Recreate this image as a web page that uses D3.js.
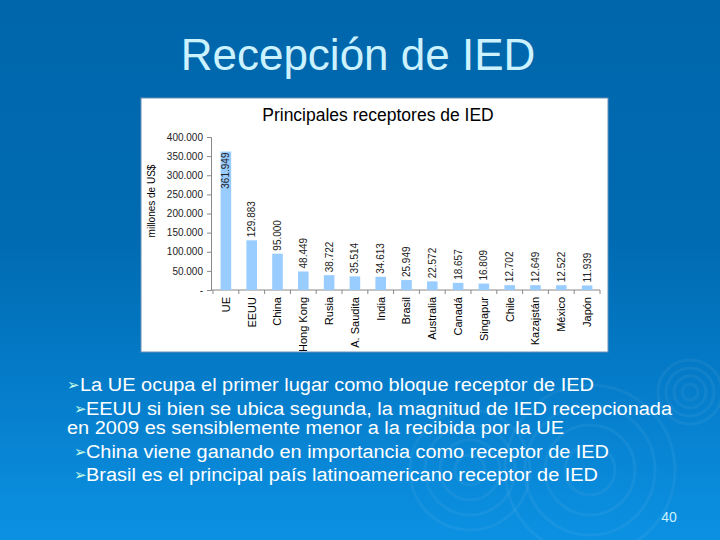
<!DOCTYPE html>
<html><head><meta charset="utf-8">
<script src="https://cdn.jsdelivr.net/npm/d3@7"></script>
<style>html,body{margin:0;padding:0;overflow:hidden;background:#0067ad}</style>
</head><body>
<script>
const categories = ["UE","EEUU","China","Hong Kong","Rusia","A. Saudita","India","Brasil","Australia","Canadá","Singapur","Chile","Kazajstán","México","Japón"];
const values = [361949,129883,95000,48449,38722,35514,34613,25949,22572,18657,16809,12702,12649,12522,11939];
const yTicks = [0,50000,100000,150000,200000,250000,300000,350000,400000];
const slideTitle = "Recepción de IED";
const chartTitle = "Principales receptores de IED";
const yLabel = "millones de US$";
const bulletTexts = [
  "La UE ocupa el primer lugar como bloque receptor de IED",
  "EEUU si bien se ubica segunda, la magnitud de IED recepcionada",
  "en 2009 es sensiblemente menor a la recibida por la UE",
  "China viene ganando en importancia como receptor de IED",
  "Brasil es el principal país latinoamericano receptor de IED"
];
const bulletFlags = [true,true,false,true,true];
const pageNum = "40";

const W=720,H=540;
const font="Liberation Sans, Arial, sans-serif";
const svg=d3.select("body").append("svg").attr("width",W).attr("height",H);
const defs=svg.append("defs");
const g=defs.append("linearGradient").attr("id","bg").attr("x1",0).attr("y1",0).attr("x2",0).attr("y2",1);
[[0,"#0066ab"],[0.45,"#006bb2"],[0.75,"#067fcd"],[1,"#0c91e2"]].forEach(s=>g.append("stop").attr("offset",s[0]).attr("stop-color",s[1]));
svg.append("rect").attr("width",W).attr("height",H).attr("fill","url(#bg)");

// decorative ripples
const ripples=[{cx:690,cy:392,r:[8,16,24,32]},{cx:590,cy:470,r:[25,45,65,85]},{cx:470,cy:470,r:[15,30,45,60]}];
ripples.forEach(rp=>rp.r.forEach(r=>svg.append("circle").attr("cx",rp.cx).attr("cy",rp.cy).attr("r",r)
  .attr("fill","none").attr("stroke","rgba(255,255,255,0.05)").attr("stroke-width",3)));

svg.append("text").attr("x",358).attr("y",70).attr("text-anchor","middle")
  .attr("font-family",font).attr("font-size",44).attr("fill","#ccf2ff").text(slideTitle);

// chart box
svg.append("rect").attr("x",141).attr("y",98).attr("width",467).attr("height",254).attr("fill","#fff").attr("stroke","#6a8fb5").attr("stroke-width",1);
svg.append("text").attr("x",378).attr("y",121).attr("text-anchor","middle")
  .attr("font-family",font).attr("font-size",17.5).attr("fill","#000").text(chartTitle);

const x=d3.scaleBand().domain(categories).range([213,600]).paddingInner(0.59).paddingOuter(0.295);
const y=d3.scaleLinear().domain([0,400000]).range([290,137]);
const loc=d3.formatLocale({decimal:",",thousands:".",grouping:[3],currency:["",""]});
const fmt=loc.format(",d");

// y axis
const ya=svg.append("g").attr("transform","translate(211,0)")
  .call(d3.axisLeft(y).tickValues(yTicks).tickSize(4).tickPadding(4).tickFormat(d=>d===0?"-":fmt(d)));
ya.select(".domain").attr("stroke","#888");
ya.selectAll(".tick line").attr("stroke","#888");
ya.selectAll(".tick text").attr("font-family",font).attr("font-size",10).attr("fill","#222");

// x axis line and boundary ticks
svg.append("line").attr("x1",211).attr("x2",x.range()[1]).attr("y1",y(0)).attr("y2",y(0)).attr("stroke","#888");
svg.selectAll("line.xt").data(d3.range(categories.length+1)).enter().append("line").attr("class","xt")
  .attr("x1",i=>x.range()[0]+i*x.step()).attr("x2",i=>x.range()[0]+i*x.step())
  .attr("y1",y(0)).attr("y2",y(0)+4).attr("stroke","#888");

// bars
svg.selectAll("rect.bar").data(categories).enter().append("rect").attr("class","bar")
  .attr("x",d=>x(d)).attr("width",x.bandwidth())
  .attr("y",(d,i)=>y(values[i])).attr("height",(d,i)=>y(0)-y(values[i])).attr("fill","#99ccff");

// value labels
svg.selectAll("text.val").data(categories).enter().append("text").attr("class","val")
  .each(function(d,i){
    const top=y(values[i]);
    const cx=x(d)+x.bandwidth()/2;
    const inside = top-3-40 < 125;
    d3.select(this).attr("transform",`translate(${cx},${inside?top+1:top-3}) rotate(-90)`)
      .attr("text-anchor",inside?"end":"start").attr("dy","0.35em")
      .attr("font-family",font).attr("font-size",10).attr("fill","#222").text(fmt(values[i]));
  });

// category labels
svg.selectAll("text.cat").data(categories).enter().append("text").attr("class","cat")
  .attr("transform",d=>`translate(${x(d)+x.bandwidth()/2},297) rotate(-90)`)
  .attr("text-anchor","end").attr("dy","0.35em")
  .attr("font-family",font).attr("font-size",11).attr("fill","#000").text(d=>d);

// y label
svg.append("text").attr("transform","translate(151,201) rotate(-90)").attr("text-anchor","middle").attr("dy","0.35em")
  .attr("font-family",font).attr("font-size",10).attr("fill","#000").text(yLabel);

// bullets
const ys=[391,415,434,458,481];
const tx=[80,86,67,86,86];
const tEnd=[594,672,564,609,598];
const bx=[67,74,0,74,74];
bulletTexts.forEach((t,i)=>{
  if(bulletFlags[i]){
    svg.append("text").attr("x",bx[i]).attr("y",ys[i]-1).attr("font-family","DejaVu Sans").attr("font-size",15)
      .attr("fill","#c8ffe8").text("➢");
  }
  svg.append("text").attr("x",tx[i]).attr("y",ys[i]).attr("font-family",font).attr("font-size",18).attr("fill","#fff")
    .attr("textLength",tEnd[i]-tx[i]).attr("lengthAdjust","spacingAndGlyphs").text(t);
});
svg.append("text").attr("x",669).attr("y",522).attr("text-anchor","middle").attr("font-family",font).attr("font-size",14).attr("fill","#ccf2ff").text(pageNum);
</script>
</body></html>
